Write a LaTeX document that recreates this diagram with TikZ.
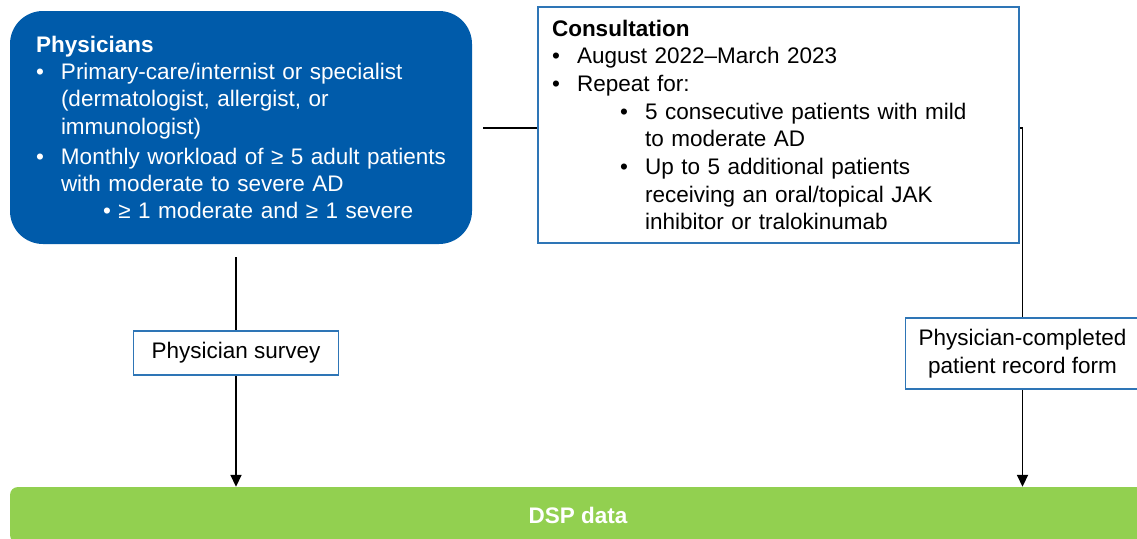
\documentclass[tikz,border=0pt]{standalone}
\usepackage{fontspec}
\setmainfont{Liberation Sans}
\usetikzlibrary{arrows.meta}
\definecolor{physblue}{RGB}{0,91,170}
\definecolor{boxblue}{RGB}{46,117,182}
\definecolor{dspgreen}{RGB}{146,208,80}
\setlength{\parindent}{0pt}
\newcommand{\bitem}[2][0pt]{\par\hangindent=\dimexpr#1+25pt\relax\hangafter=1\noindent\hspace*{#1}\makebox[25pt][l]{\textbullet}#2}

\begin{document}
\begin{tikzpicture}[x=1pt,y=-1pt]
\tikzstyle{physbox} = [fill=physblue,text=white,rounded corners=33pt,minimum width=462pt,minimum height=233pt,text width=420pt,inner xsep=21pt,inner ysep=0pt,align=left,font=\fontsize{22.5}{27.3}\selectfont]
\tikzstyle{consbox} = [draw=boxblue,line width=1.5pt,fill=white,minimum width=481pt,minimum height=236pt,text width=453pt,inner xsep=14pt,inner ysep=0pt,align=left,font=\fontsize{22.5}{27.7}\selectfont]
\tikzstyle{stepbox} = [draw=boxblue,line width=1.5pt,fill=white,align=center,inner sep=0pt,font=\fontsize{22.5}{28}\selectfont]
\tikzstyle{dspbar} = [fill=dspgreen,text=white,rounded corners=8pt,minimum width=1136pt,minimum height=56pt,font=\fontsize{22.5}{26}\selectfont\bfseries]
\tikzstyle{conn} = [line width=1.7pt,black]
\tikzstyle{arrow} = [conn,-{Triangle[length=12pt,width=11pt]}]

\useasboundingbox (0,0) rectangle (1137,538);

\node[physbox] (physicians) at (241,127.5) {\hspace*{5pt}\textbf{Physicians}
\bitem[5pt]{Primary-care/internist or specialist\newline(dermatologist, allergist, or\newline immunologist)}
\vspace{2.5pt}
\bitem[5pt]{Monthly workload of ≥ 5 adult patients\newline with moderate to severe AD}
\par\hspace*{72pt}\textbullet\ ≥ 1 moderate and ≥ 1 severe\par};

\node[consbox] (consult) at (778.5,125) {\textbf{Consultation}
\bitem{August 2022–March 2023}
\bitem{Repeat for:}
\bitem[68pt]{5 consecutive patients with mild\newline to moderate AD}
\bitem[68pt]{Up to 5 additional patients\newline receiving an oral/topical JAK\newline inhibitor or tralokinumab}\par};

\node[stepbox,minimum width=205pt,minimum height=44pt] (survey) at (236,353) {Physician survey};
\node[stepbox,minimum width=234pt,minimum height=71pt] (record) at (1022.5,353.5) {Physician-completed\\patient record form};

\node[dspbar] (dsp) at (578,515) {DSP data};

\coordinate (physfoot) at (236,257);
\coordinate (linkstart) at (483,128);

\draw[conn] (physfoot) -- (survey);
\draw[arrow] (survey) -- (survey |- dsp.north);
\draw[conn] (linkstart) -- (linkstart -| consult.west);
\draw[conn] (consult.east |- linkstart) -| (record.north);
\draw[arrow] (record) -- (record |- dsp.north);

\end{tikzpicture}
\end{document}
